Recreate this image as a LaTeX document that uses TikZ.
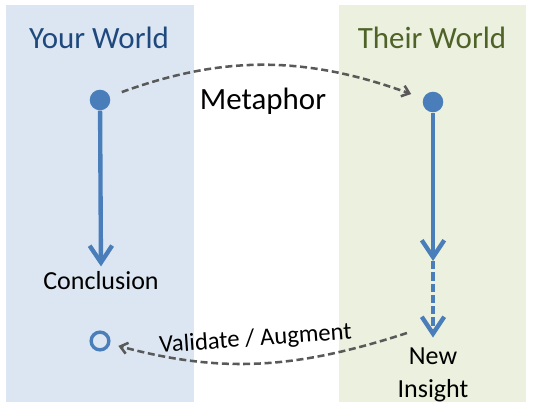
\documentclass[tikz,border=0pt]{standalone}
\usepackage{fontspec}
\setmainfont{Carlito}
\usepackage{xcolor}
\usepackage{tikz}
\usetikzlibrary{
    arrows.meta
}
\definecolor{panelblue}{HTML}{DCE6F2}
\definecolor{panelgreen}{HTML}{EBF1DE}
\definecolor{titleblue}{HTML}{1F497D}
\definecolor{titlegreen}{HTML}{4F6228}
\definecolor{lineblue}{HTML}{4A7EBB}
\definecolor{linegrey}{HTML}{595959}

\begin{document}
\begin{tikzpicture}[x=0.025cm,y=0.025cm,>={Straight Barb[length=12pt,width=16pt]}]
    \tikzstyle{spot}=[circle, fill=lineblue, inner sep=0pt, minimum size=14.6pt]
    \tikzstyle{ring}=[circle, draw=lineblue, line width=2.4pt, inner sep=0pt, minimum size=12.6pt]
    \tikzstyle{worldname}=[font=\fontsize{22}{26}\selectfont, anchor=base]
    \tikzstyle{txt}=[font=\fontsize{18.5}{23.5}\selectfont, inner sep=1pt]
    \tikzstyle{flow}=[->, draw=lineblue, line width=3.1pt]
    \tikzstyle{link}=[-{Straight Barb[length=5pt,width=8pt]}, draw=linegrey, line width=1.8pt, dash pattern=on 5pt off 2.6pt]
    \useasboundingbox (0,0) rectangle (533,-408);
    % the two worlds
    \fill[panelblue] (6,-5) rectangle (194,-402);
    \fill[panelgreen] (339,-5) rectangle (526,-402);
    \node[worldname, text=titleblue] (yw) at (99,-48) {Your World};
    \node[worldname, text=titlegreen] (tw) at (432,-48) {Their World};
    \node[spot] (ly) at (100,-100) {};
    \node[spot] (ry) at (433,-102) {};
    \node[ring] (lr) at (100,-341) {};
    \node[txt, anchor=base] (lc) at (101,-289) {Conclusion};
    \node[txt, anchor=north, align=center] (ni) at (433,-346) {New\\Insight};
    \coordinate (rt) at (433,-261);
    \node[worldname] (m) at (263,-109) {Metaphor};
    \node[txt, anchor=base, rotate=4, font=\fontsize{17.5}{21}\selectfont] (va) at (256,-346) {Validate / Augment};
    \path (ly) edge [flow, shorten >=2pt] (lc.north);
    \path (ry) edge [flow] (rt);
    \path (rt) edge [flow, dash pattern=on 6pt off 2pt, shorten >=6pt] (ni.north);
    \path (ly) edge [link, out=20, in=160, shorten <=9pt, shorten >=9pt] (ry);
    \path ([shift={(11,13)}]ni.north west) edge [link, out=198, in=-15, shorten >=6pt] (lr);
\end{tikzpicture}
\end{document}
